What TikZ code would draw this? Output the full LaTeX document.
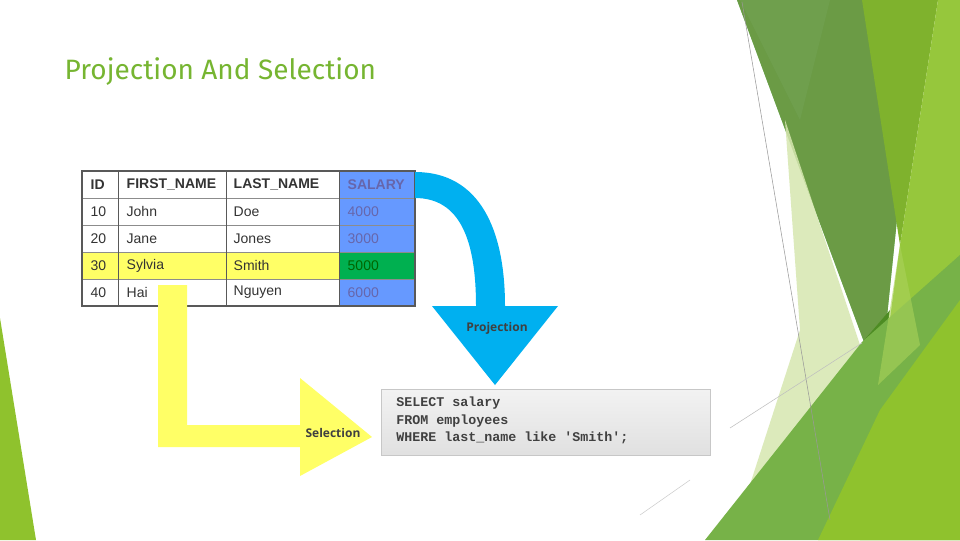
\documentclass[tikz,border=0pt]{standalone}
\usepackage{fontspec}
\setmainfont{Liberation Sans}
\newfontfamily\titlefont{Fira Sans}
\newfontfamily\codefont{Liberation Mono}
\newfontfamily\lblfont{Open Sans}
\begin{document}
\begin{tikzpicture}[x=0.75pt,y=-0.75pt,
  cell/.style={anchor=west,font=\fontsize{10.5}{12}\selectfont,text=black!80},
  hcell/.style={cell,font=\fontsize{10.5}{12}\selectfont\bfseries},
  scell/.style={cell,text=black!55!blue!60},
  arrowlbl/.style={font=\lblfont\fontsize{9}{10}\selectfont\bfseries,text=black!75}]
\useasboundingbox (0,0) rectangle (960,540);
\fill[white] (0,0) rectangle (960,540);
% right decoration
\fill[green!50!black!60!lime!70!white, fill=green!60!black!50!white] (737,0) -- (866,0) -- (900,190) -- (880,385) -- cycle;
\fill[color={rgb,255:red,107;green,155;blue,69}] (737,0) -- (866,0) -- (900,190) -- (880,385) -- cycle;
\fill[color={rgb,255:red,112;green,160;blue,80},opacity=0.8] (740,0) -- (830,0) -- (800,120) -- cycle;
\fill[color={rgb,255:red,127;green,178;blue,45}] (862,0) -- (938,0) -- (900,245) -- cycle;
\fill[color={rgb,255:red,150;green,199;blue,60}] (938,0) -- (960,0) -- (960,540) -- (860,540) -- (900,245) -- cycle;
\fill[color={rgb,255:red,214;green,231;blue,176},opacity=0.85] (785,120) -- (860,345) -- (745,500) -- (800,330) -- cycle;
\fill[color={rgb,255:red,77;green,140;blue,35}] (860,345) -- (890,310) -- (878,385) -- cycle;
\fill[color={rgb,255:red,119;green,178;blue,72}] (705,540) -- (862,342) -- (960,255) -- (960,540) -- cycle;
\fill[color={rgb,255:red,143;green,194;blue,45}] (818,540) -- (880,410) -- (960,300) -- (960,540) -- cycle;
\fill[color={rgb,255:red,170;green,210;blue,90},opacity=0.6] (878,385) -- (900,245) -- (920,345) -- cycle;
\draw[black!40,line width=0.4pt] (742,2) -- (830,520);
\draw[black!25,line width=0.4pt] (730,428) -- (862,343);
\draw[black!20,line width=0.4pt] (640,515) -- (690,480);
% left sliver
\fill[color={rgb,255:red,143;green,194;blue,45}] (0,318) -- (36,540) -- (0,540) -- cycle;
% title
\node[anchor=west,font=\titlefont\fontsize{21}{24}\selectfont,text={rgb,255:red,118;green,181;blue,49}] (title) at (60,72) {Projection And Selection};
% table fills
\fill[blue!60!white!90!cyan] (339,171) rectangle (415,306);
\fill[color={rgb,255:red,102;green,153;blue,255}] (339,171) rectangle (415,306);
\fill[color={rgb,255:red,255;green,255;blue,102}] (82,252) rectangle (339,279);
\fill[color={rgb,255:red,0;green,176;blue,80}] (339,252) rectangle (415,279);
\draw[black!45,line width=0.6pt] (82,198) -- (415,198) (82,225) -- (415,225) (82,252) -- (415,252) (82,279) -- (415,279);
\draw[black!65,line width=0.6pt] (118,171) -- (118,306) (226,171) -- (226,306) (339,171) -- (339,306);
\draw[black!65,line width=1.2pt] (82,171) rectangle (415,306);
\foreach \r/\y in {0/184.5,1/211.5,2/238.5,3/265.5,4/292.5}{}
\node[hcell] (h1) at (86,184.5) {ID};
\node[hcell] (h2) at (122,184.5) {FIRST\_NAME};
\node[hcell] (h3) at (229,184.5) {LAST\_NAME};
\node[hcell,text=black!55!blue!60] (h4) at (343,184.5) {SALARY};
\node[cell] (a1) at (86,211.5) {10};
\node[cell] (a2) at (122,211.5) {John};
\node[cell] (a3) at (229,211.5) {Doe};
\node[scell] (a4) at (343,211.5) {4000};
\node[cell] (b1) at (86,238.5) {20};
\node[cell] (b2) at (122,238.5) {Jane};
\node[cell] (b3) at (229,238.5) {Jones};
\node[scell] (b4) at (343,238.5) {3000};
\node[cell] (c1) at (86,265.5) {30};
\node[cell] (c2) at (122,265.5) {Sylvia};
\node[cell] (c3) at (229,265.5) {Smith};
\node[cell,text=green!40!black] (c4) at (343,265.5) {5000};
\node[cell] (d1) at (86,292.5) {40};
\node[cell] (d2) at (122,292.5) {Hai};
\node[cell] (d3) at (229,292.5) {Nguyen};
\node[scell] (d4) at (343,292.5) {6000};
% blue projection arrow
\fill[color={rgb,255:red,0;green,176;blue,240}] (415,172) .. controls (480,172) and (505,230) .. (505,306)
  -- (558,306) -- (495,385) -- (432,306) -- (476,306)
  .. controls (476,240) and (460,198) .. (415,198) -- cycle;
\node[arrowlbl] (proj) at (497,328) {Projection};
% yellow selection arrow
\fill[color={rgb,255:red,255;green,255;blue,102}] (158,285) -- (187,285) -- (187,425) -- (300,425) -- (300,378) -- (372,437) -- (300,476) -- (300,447) -- (158,447) -- cycle;
\node[arrowlbl] (sel) at (333,433) {Selection};
% SQL box
\shade[top color=black!5,bottom color=black!12,draw=black!22] (381,389) rectangle (710,455);
\node[anchor=north west,align=left,inner sep=0pt,font=\codefont\fontsize{10}{12.8}\selectfont\bfseries,text=black!75] (sql) at (396,397) {SELECT salary\\FROM employees\\WHERE last\_name like 'Smith';};
\end{tikzpicture}
\end{document}
